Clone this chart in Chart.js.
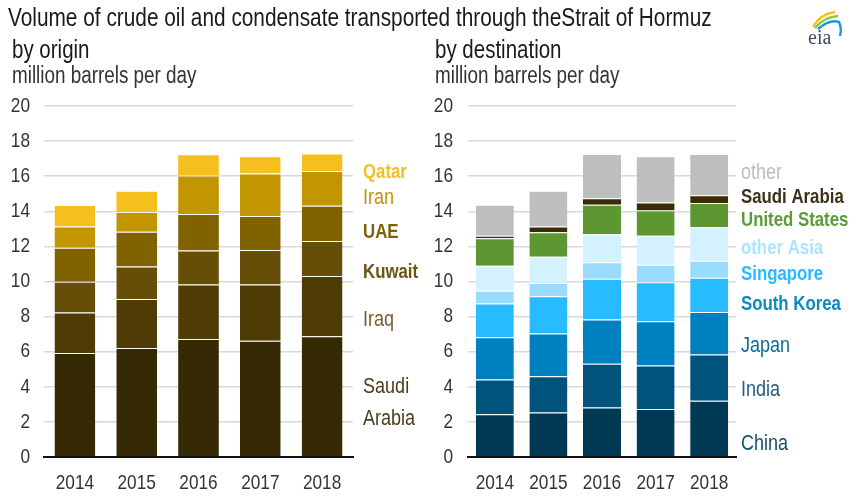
<!DOCTYPE html>
<html>
<head>
<meta charset="utf-8">
<script src="https://cdn.jsdelivr.net/npm/chart.js@4.4.1/dist/chart.umd.min.js"></script>
<style>
  html, body { margin: 0; padding: 0; background: #fff; }
  body { width: 851px; height: 496px; position: relative; overflow: hidden;
         font-family: 'Liberation Sans', Arial, sans-serif; color: #1a1a1a; }
  .txt { position: absolute; white-space: nowrap; transform-origin: 0 0; transform: scaleX(0.82); line-height: 1; }
  #title { left: 8px; top: 5px; font-size: 25.4px; color: #1a1a1a; }
  .sub { font-size: 25px; color: #1a1a1a; }
  .unit { font-size: 23px; color: #333; }
  #c1wrap { position: absolute; left: 0; top: 0; width: 430px; height: 496px; }
  #c2wrap { position: absolute; left: 420px; top: 0; width: 431px; height: 496px; }
  #logo { position: absolute; left: 802px; top: 6px; }
</style>
</head>
<body>
<div id="c1wrap"><canvas id="c1" width="430" height="496"></canvas></div>
<div id="c2wrap"><canvas id="c2" width="431" height="496"></canvas></div>
<div class="txt" id="title">Volume of crude oil and condensate transported through theStrait of Hormuz</div>
<div class="txt sub" style="left:12px; top:37px;">by origin</div>
<div class="txt unit" style="left:12px; top:64px;">million barrels per day</div>
<div class="txt sub" style="left:435px; top:37px;">by destination</div>
<div class="txt unit" style="left:435px; top:64px;">million barrels per day</div>
<svg id="logo" width="44" height="44" viewBox="0 0 44 44">
  <path d="M11 21 Q 18 8 33 6" stroke="#f4c21b" stroke-width="2.4" fill="none"/>
  <path d="M13 22 Q 22 11 36 10" stroke="#8cc63f" stroke-width="2.4" fill="none"/>
  <path d="M16 23 Q 28 13 37 16 Q 40 22 38 30" stroke="#1b96d3" stroke-width="2.4" fill="none"/>
  <text x="6" y="38" font-family="'Liberation Serif','DejaVu Serif',serif" font-size="20" fill="#3d4f63">eia</text>
</svg>
<script>
// ---------- data ----------
const years = ['2014', '2015', '2016', '2017', '2018'];
const yTickValues = [0, 2, 4, 6, 8, 10, 12, 14, 16, 18, 20];

// by origin (million barrels per day)
const originSaudiArabia = [5.93, 6.21, 6.72, 6.63, 6.88];
const originIraq        = [2.31, 2.79, 3.11, 3.20, 3.44];
const originKuwait      = [1.74, 1.85, 1.93, 1.97, 1.99];
const originUAE         = [1.95, 1.99, 2.08, 1.93, 2.01];
const originIran        = [1.20, 1.12, 2.20, 2.43, 1.97];
const originQatar       = [1.23, 1.21, 1.21, 0.98, 1.00];

// by destination (million barrels per day)
const destChina        = [2.44, 2.54, 2.82, 2.73, 3.21];
const destIndia        = [1.97, 2.06, 2.49, 2.48, 2.63];
const destJapan        = [2.42, 2.44, 2.53, 2.52, 2.42];
const destSouthKorea   = [1.91, 2.12, 2.31, 2.23, 1.95];
const destSingapore    = [0.73, 0.76, 0.94, 0.99, 0.97];
const destOtherAsia    = [1.43, 1.49, 1.60, 1.65, 1.91];
const destUnitedStates = [1.56, 1.40, 1.68, 1.45, 1.38];
const destSaudiArabia  = [0.14, 0.32, 0.38, 0.45, 0.45];
const destOther        = [1.77, 2.04, 2.52, 2.64, 2.35];

// ---------- styling ----------
const FONT = "'Liberation Sans', Arial, sans-serif";
const NARROW = 0.82; // horizontal condensing, emulates a narrow sans face

const originSeries = [
  { label: 'Saudi Arabia', data: originSaudiArabia, color: '#352a04', text: '#4a3d1c', lines: ['Saudi', 'Arabia'], at: 3.1, bold: false },
  { label: 'Iraq',         data: originIraq,        color: '#4f3c05', text: '#75602f', lines: ['Iraq'],   at: 7.8,  bold: false },
  { label: 'Kuwait',       data: originKuwait,      color: '#674e08', text: '#6b5414', lines: ['Kuwait'], at: 10.5, bold: true },
  { label: 'UAE',          data: originUAE,         color: '#806200', text: '#7d6108', lines: ['UAE'],    at: 12.8, bold: true },
  { label: 'Iran',         data: originIran,        color: '#c29600', text: '#c29600', lines: ['Iran'],   at: 14.75, bold: false },
  { label: 'Qatar',        data: originQatar,       color: '#f5c01e', text: '#f5bf1e', lines: ['Qatar'],  at: 16.2, bold: true }
];

const destSeries = [
  { label: 'China',         data: destChina,        color: '#003953', text: '#18506d', lines: ['China'],         at: 0.75, bold: false },
  { label: 'India',         data: destIndia,        color: '#00547c', text: '#245f80', lines: ['India'],         at: 3.8,  bold: false },
  { label: 'Japan',         data: destJapan,        color: '#0081bf', text: '#0f6c9a', lines: ['Japan'],         at: 6.3,  bold: false },
  { label: 'South Korea',   data: destSouthKorea,   color: '#27bcff', text: '#0d88c0', lines: ['South Korea'],   at: 8.7,  bold: true },
  { label: 'Singapore',     data: destSingapore,    color: '#99dcff', text: '#27bcff', lines: ['Singapore'],     at: 10.4, bold: true },
  { label: 'other Asia',    data: destOtherAsia,    color: '#d4f1ff', text: '#aee3ff', lines: ['other Asia'],    at: 11.9, bold: true },
  { label: 'United States', data: destUnitedStates, color: '#5c9731', text: '#5e9a3a', lines: ['United States'], at: 13.5, bold: true },
  { label: 'Saudi Arabia',  data: destSaudiArabia,  color: '#382c05', text: '#3d3219', lines: ['Saudi Arabia'],  at: 14.8, bold: true },
  { label: 'other',         data: destOther,        color: '#bebebe', text: '#bdbdbd', lines: ['other'],         at: 16.2, bold: false }
];

// condense all canvas text horizontally around its anchor point
function condenseText(canvas) {
  const ctx = canvas.getContext('2d');
  const orig = ctx.fillText.bind(ctx);
  ctx.fillText = function (text, x, y, maxWidth) {
    ctx.save();
    ctx.translate(x, y);
    ctx.scale(NARROW, 1);
    if (maxWidth !== undefined) orig(text, 0, 0, maxWidth / NARROW); else orig(text, 0, 0);
    ctx.restore();
  };
}

const seriesLabels = {
  id: 'seriesLabels',
  afterDraw(chart, args, opts) {
    const ctx = chart.ctx;
    const ys = chart.scales.y;
    const x = chart.chartArea.right + opts.offset;
    ctx.save();
    ctx.textAlign = 'left';
    ctx.textBaseline = 'middle';
    opts.items.forEach(it => {
      ctx.font = it.bold ? 'bold 20.5px ' + FONT : '22px ' + FONT;
      ctx.fillStyle = it.text;
      const y0 = ys.getPixelForValue(it.at);
      const n = it.lines.length;
      it.lines.forEach((ln, i) => {
        ctx.fillText(ln, x, y0 + (i - (n - 1) / 2) * 32);
      });
    });
    ctx.restore();
  }
};

function makeChart(canvasId, series, opt) {
  const canvas = document.getElementById(canvasId);
  condenseText(canvas);
  return new Chart(canvas, {
    type: 'bar',
    data: {
      labels: years,
      datasets: series.map(s => ({
        label: s.label,
        data: s.data,
        backgroundColor: s.color,
        borderColor: 'rgba(255,255,255,0.28)',
        borderWidth: { top: 1, left: 0, right: 0, bottom: 0 },
        borderSkipped: false,
        barPercentage: opt.barPct,
        categoryPercentage: 1.0
      }))
    },
    options: {
      responsive: false,
      animation: false,
      events: [],
      layout: { padding: { top: 106, right: opt.padRight, bottom: 0, left: 0 } },
      plugins: {
        legend: { display: false },
        tooltip: { enabled: false },
        title: { display: false },
        seriesLabels: { items: series, offset: opt.labelOffset }
      },
      scales: {
        x: {
          stacked: true,
          grid: { display: false, drawTicks: false },
          border: { display: true, color: '#111', width: 2 },
          ticks: { color: '#333', font: { family: FONT, size: 21 }, padding: 14, maxRotation: 0, autoSkip: false },
          afterFit(scale) { scale.height = 39; }
        },
        y: {
          stacked: true,
          min: 0, max: 20,
          afterBuildTicks(scale) { scale.ticks = yTickValues.map(v => ({ value: v })); },
          grid: { color: '#d9d9d9', lineWidth: 1.5, drawTicks: false },
          border: { display: false },
          ticks: { color: '#333', font: { family: FONT, size: 21 }, padding: opt.tickPad },
          afterFit(scale) { scale.width = opt.yWidth; }
        }
      }
    },
    plugins: [seriesLabels]
  });
}

makeChart('c1', originSeries, { barPct: 0.66, padRight: 77, labelOffset: 10, yWidth: 44, tickPad: 14 });
makeChart('c2', destSeries,   { barPct: 0.71, padRight: 115, labelOffset: 5, yWidth: 48, tickPad: 15 });
</script>
</body>
</html>
